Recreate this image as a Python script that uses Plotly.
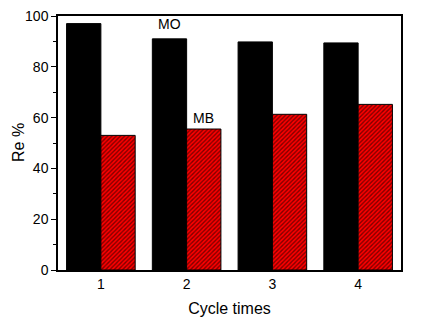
import plotly.graph_objects as go

cycles = [1, 2, 3, 4]
mo_values = [97.0, 91.0, 89.8, 89.4]
mb_values = [53.0, 55.5, 61.3, 65.2]
y_ticks = [0, 20, 40, 60, 80, 100]

fig = go.Figure()
fig.add_trace(go.Bar(x=cycles, y=mo_values, name="MO",
                     marker=dict(color="black", line=dict(color="black", width=1))))
fig.add_trace(go.Bar(x=cycles, y=mb_values, name="MB",
                     marker=dict(color="#ff0000", line=dict(color="black", width=1),
                                 pattern=dict(shape="/", fgcolor="black", bgcolor="#ff0000",
                                              size=3, solidity=0.45))))

fig.add_annotation(x=cycles[1] - 0.2, y=mo_values[1], text="MO", showarrow=False,
                   yanchor="bottom", yshift=5, font=dict(size=14, color="black"))
fig.add_annotation(x=cycles[1] + 0.2, y=mb_values[1], text="MB", showarrow=False,
                   yanchor="bottom", yshift=1, font=dict(size=14, color="black"))
fig.add_annotation(x=0, y=0.5, xref="paper", yref="paper", text="Re %", showarrow=False,
                   textangle=-90, xanchor="center", yanchor="middle", xshift=-40,
                   font=dict(size=16, color="black"))

fig.update_layout(
    width=421, height=328,
    margin=dict(l=58, r=20, t=16, b=58),
    barmode="group", bargap=0.2, bargroupgap=0,
    showlegend=False,
    plot_bgcolor="white", paper_bgcolor="white",
    font=dict(family="Liberation Sans, Arial, sans-serif", size=14, color="black"),
)
fig.update_xaxes(range=[0.5, 4.5], tickvals=cycles, ticks="", showgrid=False,
                 showline=True, linecolor="black", linewidth=1.5, mirror=True,
                 automargin=False,
                 title=dict(text="Cycle times", font=dict(size=16), standoff=12),
                 tickfont=dict(size=14))
fig.update_yaxes(range=[0, 100], tickvals=y_ticks, ticks="outside", ticklen=5,
                 tickwidth=1, tickcolor="black",
                 minor=dict(dtick=10, ticks="outside", ticklen=3, tickcolor="black"),
                 showgrid=False, zeroline=False, automargin=False,
                 showline=True, linecolor="black", linewidth=1.5, mirror=True,
                 tickfont=dict(size=14))

fig.write_html("out.html")
